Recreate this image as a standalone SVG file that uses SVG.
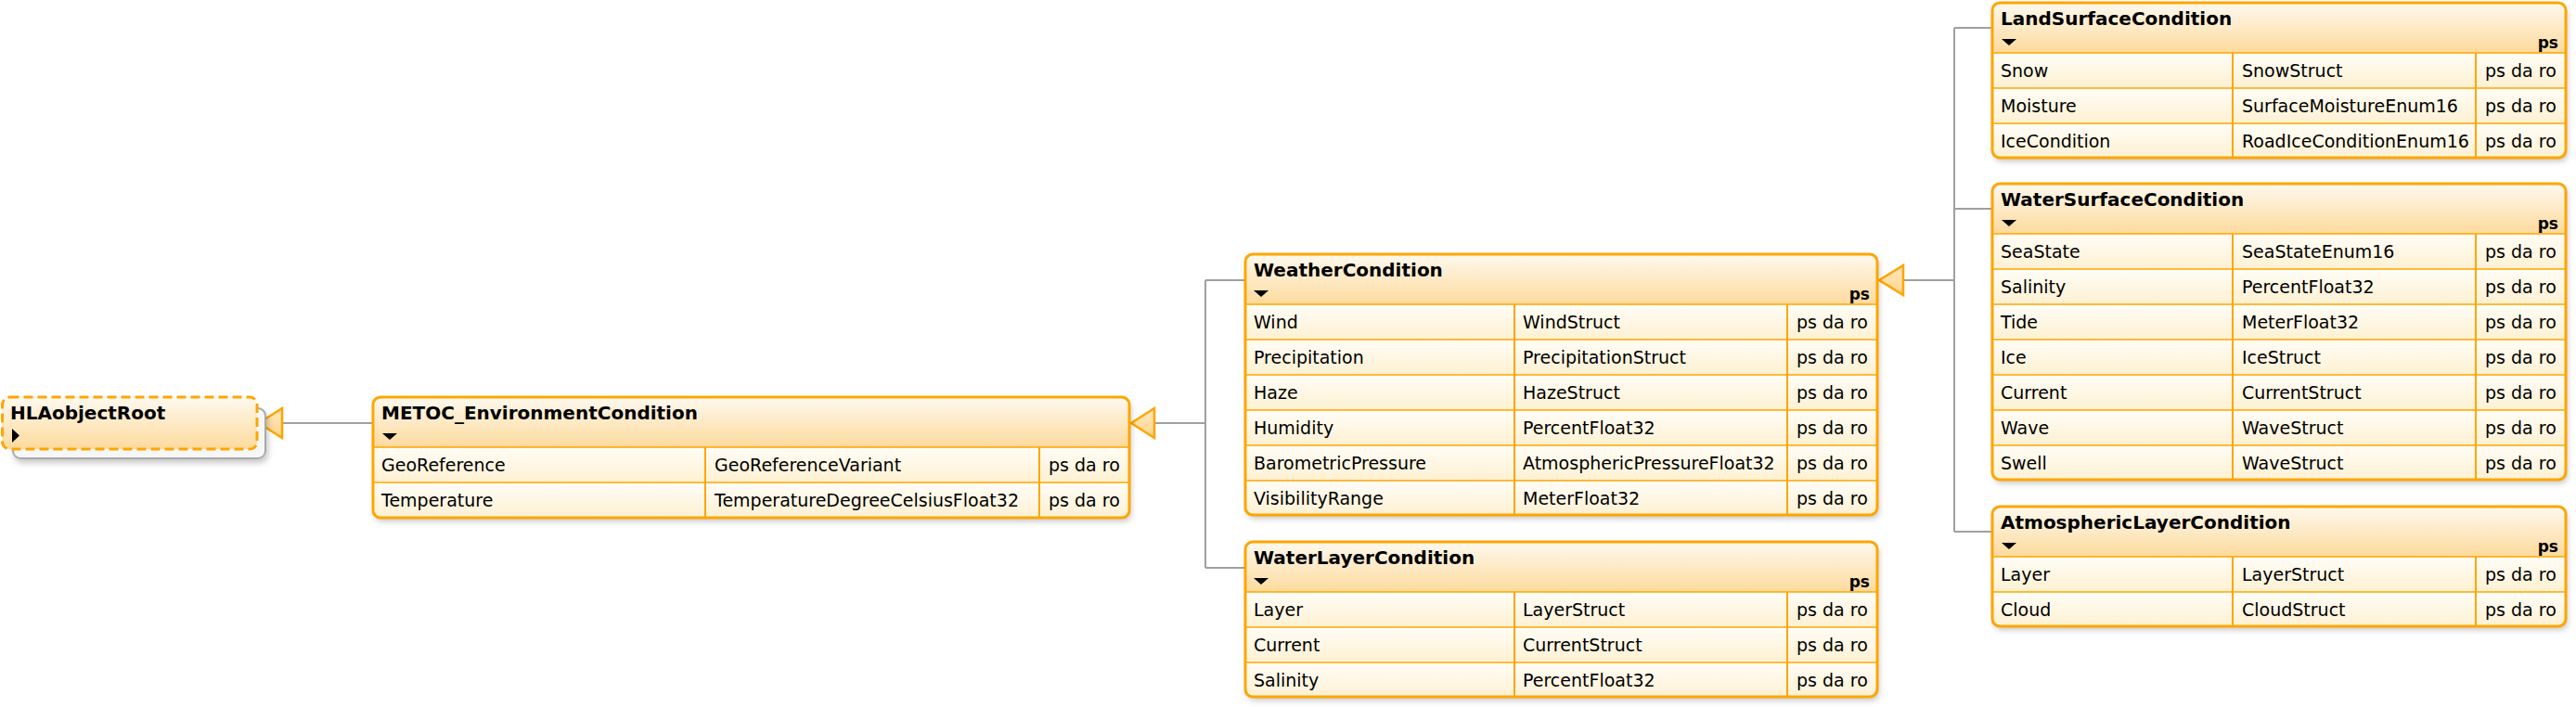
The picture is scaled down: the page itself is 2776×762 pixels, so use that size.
<svg xmlns="http://www.w3.org/2000/svg" width="2776" height="762" viewBox="0 0 2776 762">
<style>
.t{font-family:"DejaVu Sans","Liberation Sans",sans-serif;font-size:19px;fill:#000}
.ti{font-family:"DejaVu Sans","Liberation Sans",sans-serif;font-size:20px;font-weight:bold;fill:#000}
.ps{font-family:"DejaVu Sans","Liberation Sans",sans-serif;font-size:17px;font-weight:bold;fill:#000;text-anchor:end}
.frame{fill:none;stroke:#FFA500;stroke-width:3}
.sep{stroke:#FFA500;stroke-width:1.6}
.col{stroke:#FFA500;stroke-width:2}
.hdr{fill:url(#hdrG)}
.row{fill:url(#rowG)}
.tri{fill:#000}
.conn{fill:none;stroke:#A0A0A0;stroke-width:2}
.gen{fill:url(#genG);stroke:#FFA500;stroke-width:2.5;stroke-linejoin:miter}
</style>
<defs>
<linearGradient id="hdrG" x1="0" y1="0" x2="0" y2="1"><stop offset="0" stop-color="#FEF9EF"/><stop offset="1" stop-color="#FDDA9C"/></linearGradient>
<linearGradient id="rowG" x1="0" y1="0" x2="0" y2="1"><stop offset="0" stop-color="#FFFDF7"/><stop offset="1" stop-color="#FEF1D2"/></linearGradient>
<linearGradient id="genG" x1="0" y1="0" x2="0" y2="1"><stop offset="0" stop-color="#FFE9C2"/><stop offset="1" stop-color="#FFD48A"/></linearGradient>
<filter id="sh" x="-5%" y="-10%" width="110%" height="130%"><feDropShadow dx="2" dy="4" stdDeviation="3" flood-color="#000" flood-opacity="0.22"/></filter>
<clipPath id="cM"><rect x="402" y="428" width="815" height="130" rx="8"/></clipPath>
<clipPath id="cW"><rect x="1342" y="274" width="681" height="281" rx="8"/></clipPath>
<clipPath id="cWL"><rect x="1342" y="584" width="681" height="167" rx="8"/></clipPath>
<clipPath id="cL"><rect x="2147" y="3" width="618" height="167" rx="8"/></clipPath>
<clipPath id="cWS"><rect x="2147" y="198" width="618" height="319" rx="8"/></clipPath>
<clipPath id="cA"><rect x="2147" y="546" width="618" height="129" rx="8"/></clipPath>
</defs>
<rect width="2776" height="762" fill="#fff"/>

<g id="connectors">
<line class="conn" x1="304" y1="456" x2="402" y2="456"/>
<polygon class="gen" points="279,456 304,440 304,472"/>
<path class="conn" d="M1244 456 H1299 M1299 302 V612 M1299 302 H1342 M1299 612 H1342"/>
<polygon class="gen" points="1219,456 1244,440 1244,472"/>
<path class="conn" d="M2051 302 H2106 M2106 30 V573 M2106 30 H2147 M2106 225 H2147 M2106 573 H2147"/>
<polygon class="gen" points="2025,302 2051,286 2051,318"/>
</g>

<g id="HLAobjectRoot">
<rect x="14" y="440" width="272" height="54" rx="8" fill="#F7F7F7" stroke="#A9A9A9" stroke-width="2" filter="url(#sh)"/>
<rect x="2.5" y="428" width="274.5" height="56" rx="8" class="hdr" stroke="#FFA500" stroke-width="3" stroke-dasharray="10 5"/>
<text class="ti" x="11" y="452">HLAobjectRoot</text>
<polygon class="tri" points="13,462 21,469.5 13,477"/>
</g>

<g id="METOC_EnvironmentCondition">
<g filter="url(#sh)"><rect x="402" y="428" width="815" height="130" rx="8" fill="#FEF3D8"/></g>
<g clip-path="url(#cM)">
<rect class="hdr" x="402" y="428" width="815" height="54"/>
<rect class="row" x="402" y="482" width="815" height="38"/>
<rect class="row" x="402" y="520" width="815" height="38"/>
</g>
<line class="sep" x1="402" y1="482" x2="1217" y2="482"/>
<line class="sep" x1="402" y1="520" x2="1217" y2="520"/>
<line class="col" x1="760" y1="482" x2="760" y2="558"/>
<line class="col" x1="1120" y1="482" x2="1120" y2="558"/>
<rect class="frame" x="402" y="428" width="815" height="130" rx="8"/>
<text class="ti" x="411" y="452">METOC_EnvironmentCondition</text>
<polygon class="tri" points="412,467 428,467 420,474"/>
<text class="t" x="411" y="508">GeoReference</text><text class="t" x="770" y="508">GeoReferenceVariant</text><text class="t" x="1130" y="508">ps da ro</text>
<text class="t" x="411" y="546">Temperature</text><text class="t" x="770" y="546">TemperatureDegreeCelsiusFloat32</text><text class="t" x="1130" y="546">ps da ro</text>
</g>

<g id="WeatherCondition">
<g filter="url(#sh)"><rect x="1342" y="274" width="681" height="281" rx="8" fill="#FEF3D8"/></g>
<g clip-path="url(#cW)">
<rect class="hdr" x="1342" y="274" width="681" height="54"/>
<rect class="row" x="1342" y="328" width="681" height="38"/>
<rect class="row" x="1342" y="366" width="681" height="38"/>
<rect class="row" x="1342" y="404" width="681" height="38"/>
<rect class="row" x="1342" y="442" width="681" height="38"/>
<rect class="row" x="1342" y="480" width="681" height="38"/>
<rect class="row" x="1342" y="518" width="681" height="38"/>
</g>
<line class="sep" x1="1342" y1="328" x2="2023" y2="328"/>
<line class="sep" x1="1342" y1="366" x2="2023" y2="366"/>
<line class="sep" x1="1342" y1="404" x2="2023" y2="404"/>
<line class="sep" x1="1342" y1="442" x2="2023" y2="442"/>
<line class="sep" x1="1342" y1="480" x2="2023" y2="480"/>
<line class="sep" x1="1342" y1="518" x2="2023" y2="518"/>
<line class="col" x1="1632" y1="328" x2="1632" y2="555"/>
<line class="col" x1="1926" y1="328" x2="1926" y2="555"/>
<rect class="frame" x="1342" y="274" width="681" height="281" rx="8"/>
<text class="ti" x="1351" y="298">WeatherCondition</text>
<polygon class="tri" points="1351,313 1367,313 1359,320"/>
<text class="ps" x="2015" y="323">ps</text>
<text class="t" x="1351" y="354">Wind</text><text class="t" x="1641" y="354">WindStruct</text><text class="t" x="1936" y="354">ps da ro</text>
<text class="t" x="1351" y="392">Precipitation</text><text class="t" x="1641" y="392">PrecipitationStruct</text><text class="t" x="1936" y="392">ps da ro</text>
<text class="t" x="1351" y="430">Haze</text><text class="t" x="1641" y="430">HazeStruct</text><text class="t" x="1936" y="430">ps da ro</text>
<text class="t" x="1351" y="468">Humidity</text><text class="t" x="1641" y="468">PercentFloat32</text><text class="t" x="1936" y="468">ps da ro</text>
<text class="t" x="1351" y="506">BarometricPressure</text><text class="t" x="1641" y="506">AtmosphericPressureFloat32</text><text class="t" x="1936" y="506">ps da ro</text>
<text class="t" x="1351" y="544">VisibilityRange</text><text class="t" x="1641" y="544">MeterFloat32</text><text class="t" x="1936" y="544">ps da ro</text>
</g>

<g id="WaterLayerCondition">
<g filter="url(#sh)"><rect x="1342" y="584" width="681" height="167" rx="8" fill="#FEF3D8"/></g>
<g clip-path="url(#cWL)">
<rect class="hdr" x="1342" y="584" width="681" height="54"/>
<rect class="row" x="1342" y="638" width="681" height="38"/>
<rect class="row" x="1342" y="676" width="681" height="38"/>
<rect class="row" x="1342" y="714" width="681" height="38"/>
</g>
<line class="sep" x1="1342" y1="638" x2="2023" y2="638"/>
<line class="sep" x1="1342" y1="676" x2="2023" y2="676"/>
<line class="sep" x1="1342" y1="714" x2="2023" y2="714"/>
<line class="col" x1="1632" y1="638" x2="1632" y2="751"/>
<line class="col" x1="1926" y1="638" x2="1926" y2="751"/>
<rect class="frame" x="1342" y="584" width="681" height="167" rx="8"/>
<text class="ti" x="1351" y="608">WaterLayerCondition</text>
<polygon class="tri" points="1351,623 1367,623 1359,630"/>
<text class="ps" x="2015" y="633">ps</text>
<text class="t" x="1351" y="664">Layer</text><text class="t" x="1641" y="664">LayerStruct</text><text class="t" x="1936" y="664">ps da ro</text>
<text class="t" x="1351" y="702">Current</text><text class="t" x="1641" y="702">CurrentStruct</text><text class="t" x="1936" y="702">ps da ro</text>
<text class="t" x="1351" y="740">Salinity</text><text class="t" x="1641" y="740">PercentFloat32</text><text class="t" x="1936" y="740">ps da ro</text>
</g>

<g id="LandSurfaceCondition">
<g filter="url(#sh)"><rect x="2147" y="3" width="618" height="167" rx="8" fill="#FEF3D8"/></g>
<g clip-path="url(#cL)">
<rect class="hdr" x="2147" y="3" width="618" height="54"/>
<rect class="row" x="2147" y="57" width="618" height="38"/>
<rect class="row" x="2147" y="95" width="618" height="38"/>
<rect class="row" x="2147" y="133" width="618" height="38"/>
</g>
<line class="sep" x1="2147" y1="57" x2="2765" y2="57"/>
<line class="sep" x1="2147" y1="95" x2="2765" y2="95"/>
<line class="sep" x1="2147" y1="133" x2="2765" y2="133"/>
<line class="col" x1="2406" y1="57" x2="2406" y2="170"/>
<line class="col" x1="2668" y1="57" x2="2668" y2="170"/>
<rect class="frame" x="2147" y="3" width="618" height="167" rx="8"/>
<text class="ti" x="2156" y="27">LandSurfaceCondition</text>
<polygon class="tri" points="2157,42 2173,42 2165,49"/>
<text class="ps" x="2757" y="52">ps</text>
<text class="t" x="2156" y="83">Snow</text><text class="t" x="2416" y="83">SnowStruct</text><text class="t" x="2678" y="83">ps da ro</text>
<text class="t" x="2156" y="121">Moisture</text><text class="t" x="2416" y="121">SurfaceMoistureEnum16</text><text class="t" x="2678" y="121">ps da ro</text>
<text class="t" x="2156" y="159">IceCondition</text><text class="t" x="2416" y="159">RoadIceConditionEnum16</text><text class="t" x="2678" y="159">ps da ro</text>
</g>

<g id="WaterSurfaceCondition">
<g filter="url(#sh)"><rect x="2147" y="198" width="618" height="319" rx="8" fill="#FEF3D8"/></g>
<g clip-path="url(#cWS)">
<rect class="hdr" x="2147" y="198" width="618" height="54"/>
<rect class="row" x="2147" y="252" width="618" height="38"/>
<rect class="row" x="2147" y="290" width="618" height="38"/>
<rect class="row" x="2147" y="328" width="618" height="38"/>
<rect class="row" x="2147" y="366" width="618" height="38"/>
<rect class="row" x="2147" y="404" width="618" height="38"/>
<rect class="row" x="2147" y="442" width="618" height="38"/>
<rect class="row" x="2147" y="480" width="618" height="38"/>
</g>
<line class="sep" x1="2147" y1="252" x2="2765" y2="252"/>
<line class="sep" x1="2147" y1="290" x2="2765" y2="290"/>
<line class="sep" x1="2147" y1="328" x2="2765" y2="328"/>
<line class="sep" x1="2147" y1="366" x2="2765" y2="366"/>
<line class="sep" x1="2147" y1="404" x2="2765" y2="404"/>
<line class="sep" x1="2147" y1="442" x2="2765" y2="442"/>
<line class="sep" x1="2147" y1="480" x2="2765" y2="480"/>
<line class="col" x1="2406" y1="252" x2="2406" y2="517"/>
<line class="col" x1="2668" y1="252" x2="2668" y2="517"/>
<rect class="frame" x="2147" y="198" width="618" height="319" rx="8"/>
<text class="ti" x="2156" y="222">WaterSurfaceCondition</text>
<polygon class="tri" points="2157,237 2173,237 2165,244"/>
<text class="ps" x="2757" y="247">ps</text>
<text class="t" x="2156" y="278">SeaState</text><text class="t" x="2416" y="278">SeaStateEnum16</text><text class="t" x="2678" y="278">ps da ro</text>
<text class="t" x="2156" y="316">Salinity</text><text class="t" x="2416" y="316">PercentFloat32</text><text class="t" x="2678" y="316">ps da ro</text>
<text class="t" x="2156" y="354">Tide</text><text class="t" x="2416" y="354">MeterFloat32</text><text class="t" x="2678" y="354">ps da ro</text>
<text class="t" x="2156" y="392">Ice</text><text class="t" x="2416" y="392">IceStruct</text><text class="t" x="2678" y="392">ps da ro</text>
<text class="t" x="2156" y="430">Current</text><text class="t" x="2416" y="430">CurrentStruct</text><text class="t" x="2678" y="430">ps da ro</text>
<text class="t" x="2156" y="468">Wave</text><text class="t" x="2416" y="468">WaveStruct</text><text class="t" x="2678" y="468">ps da ro</text>
<text class="t" x="2156" y="506">Swell</text><text class="t" x="2416" y="506">WaveStruct</text><text class="t" x="2678" y="506">ps da ro</text>
</g>

<g id="AtmosphericLayerCondition">
<g filter="url(#sh)"><rect x="2147" y="546" width="618" height="129" rx="8" fill="#FEF3D8"/></g>
<g clip-path="url(#cA)">
<rect class="hdr" x="2147" y="546" width="618" height="54"/>
<rect class="row" x="2147" y="600" width="618" height="38"/>
<rect class="row" x="2147" y="638" width="618" height="38"/>
</g>
<line class="sep" x1="2147" y1="600" x2="2765" y2="600"/>
<line class="sep" x1="2147" y1="638" x2="2765" y2="638"/>
<line class="col" x1="2406" y1="600" x2="2406" y2="675"/>
<line class="col" x1="2668" y1="600" x2="2668" y2="675"/>
<rect class="frame" x="2147" y="546" width="618" height="129" rx="8"/>
<text class="ti" x="2156" y="570">AtmosphericLayerCondition</text>
<polygon class="tri" points="2157,585 2173,585 2165,592"/>
<text class="ps" x="2757" y="595">ps</text>
<text class="t" x="2156" y="626">Layer</text><text class="t" x="2416" y="626">LayerStruct</text><text class="t" x="2678" y="626">ps da ro</text>
<text class="t" x="2156" y="664">Cloud</text><text class="t" x="2416" y="664">CloudStruct</text><text class="t" x="2678" y="664">ps da ro</text>
</g>
</svg>
